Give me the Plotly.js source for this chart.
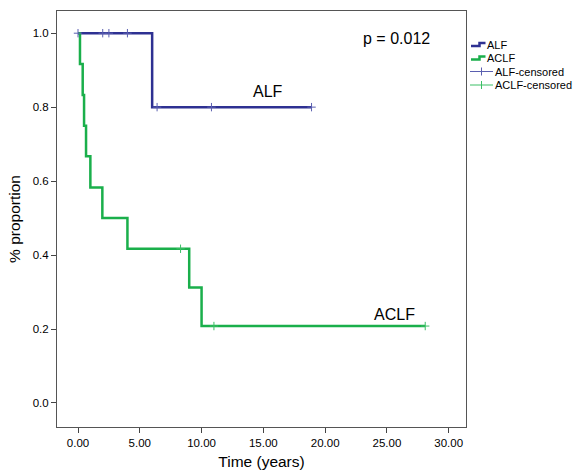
<!DOCTYPE html>
<html>
<head>
<meta charset="utf-8">
<script src="https://cdn.plot.ly/plotly-3.0.1.min.js"></script>
<style>html,body{margin:0;padding:0;background:#fff;}#chart{width:577px;height:473px;}</style>
</head>
<body>
<div id="chart"></div>
<script>
// Kaplan-Meier step data
var alfTimes = [0, 6.0, 18.9];
var alfSurv = [1.0, 0.8, 0.8];
var aclfTimes = [0, 0.16, 0.38, 0.49, 0.65, 1.0, 1.97, 4.0, 9.0, 10.0, 28.1];
var aclfSurv = [1.0, 0.917, 0.833, 0.75, 0.667, 0.583, 0.5, 0.417, 0.3125, 0.208, 0.208];
var alfCensTimes = [0, 2.0, 2.5, 4.0, 6.4, 10.8, 18.9];
var alfCensSurv = [1.0, 1.0, 1.0, 1.0, 0.8, 0.8, 0.8];
var aclfCensTimes = [8.3, 11.0, 28.1];
var aclfCensSurv = [0.417, 0.208, 0.208];
var xTicks = [0, 5, 10, 15, 20, 25, 30];
var xTickLabels = ['0.00', '5.00', '10.00', '15.00', '20.00', '25.00', '30.00'];
var yTicks = [0, 0.2, 0.4, 0.6, 0.8, 1.0];
var yTickLabels = ['0.0', '0.2', '0.4', '0.6', '0.8', '1.0'];
var legendNames = ['ALF', 'ACLF', 'ALF-censored', 'ACLF-censored'];

var blue = '#2e3192', green = '#1aaf4b';
var blueC = '#5a5fb0', greenC = '#3cbf66';

var M = {l: 57, r: 111, t: 11, b: 46};
var W = 577, H = 473;
var pw = W - M.l - M.r, ph = H - M.t - M.b;
function px(x) { return (x - M.l) / pw; }
function py(y) { return (H - M.b - y) / ph; }

var traces = [
  {x: alfTimes, y: alfSurv, mode: 'lines', name: legendNames[0], line: {color: blue, width: 2.5, shape: 'hv'}},
  {x: aclfTimes, y: aclfSurv, mode: 'lines', name: legendNames[1], line: {color: green, width: 2.5, shape: 'hv'}},
  {x: alfCensTimes, y: alfCensSurv, mode: 'markers', name: legendNames[2],
   marker: {symbol: 'cross-thin-open', size: 6, color: blueC, line: {width: 1, color: blueC}}},
  {x: aclfCensTimes, y: aclfCensSurv, mode: 'markers', name: legendNames[3],
   marker: {symbol: 'cross-thin-open', size: 6, color: greenC, line: {width: 1, color: greenC}}}
];

// hand-drawn legend (step icons like the reference)
var rowY = [44.5, 58, 71.5, 85];
var shapes = [];
var legAnn = [];
function stepPath(yc) {
  var x0 = px(471), x1 = px(479.5), x2 = px(485.5);
  var yl = py(yc + 1.5), yh = py(yc - 1.5);
  return 'M' + x0 + ',' + yl + ' L' + x1 + ',' + yl + ' L' + x1 + ',' + yh + ' L' + x2 + ',' + yh;
}
shapes.push({type: 'path', xref: 'paper', yref: 'paper', path: stepPath(rowY[0]), line: {color: blue, width: 2.5}});
shapes.push({type: 'path', xref: 'paper', yref: 'paper', path: stepPath(rowY[1]), line: {color: green, width: 2.5}});
[[rowY[2], blueC], [rowY[3], greenC]].forEach(function (r) {
  shapes.push({type: 'line', xref: 'paper', yref: 'paper', x0: px(470), x1: px(493), y0: py(r[0]), y1: py(r[0]), line: {color: r[1], width: 1}});
  shapes.push({type: 'line', xref: 'paper', yref: 'paper', x0: px(481.5), x1: px(481.5), y0: py(r[0] - 4), y1: py(r[0] + 4), line: {color: r[1], width: 1}});
});
var textX = [486, 486, 494, 494];
for (var i = 0; i < 4; i++) {
  legAnn.push({xref: 'paper', yref: 'paper', x: px(textX[i]), y: py(rowY[i]), xanchor: 'left', yanchor: 'middle',
    text: legendNames[i], showarrow: false, font: {size: 11}, xshift: -1});
}

var layout = {
  width: W, height: H,
  margin: {l: M.l, r: M.r, t: M.t, b: M.b, autoexpand: false},
  paper_bgcolor: '#fff', plot_bgcolor: '#fff',
  font: {family: 'Liberation Sans, Arial, sans-serif', color: '#000', size: 11},
  showlegend: false,
  xaxis: {
    range: [-1.7, 31.4], tickvals: xTicks, ticktext: xTickLabels,
    ticks: 'outside', ticklen: 5, tickcolor: '#444', showgrid: false, zeroline: false,
    showline: true, linecolor: '#555', linewidth: 1, mirror: true,
    title: {text: 'Time (years)', font: {size: 15.5}, standoff: 8},
    tickfont: {size: 11.5}
  },
  yaxis: {
    range: [-0.065, 1.06], tickvals: yTicks, ticktext: yTickLabels,
    ticks: 'outside', ticklen: 5, tickcolor: '#444', showgrid: false, zeroline: false,
    showline: true, linecolor: '#555', linewidth: 1, mirror: true,
    title: {text: '% proportion', font: {size: 15.5}, standoff: 8},
    tickfont: {size: 11.5}
  },
  shapes: shapes,
  annotations: [
    {x: 25.75, y: 0.985, xref: 'x', yref: 'y', text: 'p = 0.012', showarrow: false, font: {size: 16}},
    {x: 15.4, y: 0.843, xref: 'x', yref: 'y', text: 'ALF', showarrow: false, font: {size: 16}},
    {x: 25.6, y: 0.24, xref: 'x', yref: 'y', text: 'ACLF', showarrow: false, font: {size: 16}}
  ].concat(legAnn)
};
Plotly.newPlot('chart', traces, layout, {displayModeBar: false, staticPlot: true});
</script>
</body>
</html>
